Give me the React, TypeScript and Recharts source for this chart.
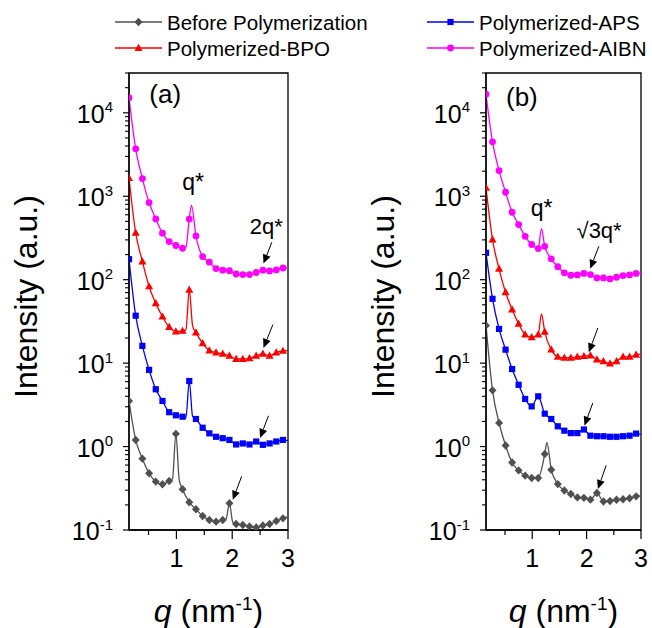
import React from "react"
import { LineChart, Line, XAxis, YAxis, ReferenceLine, ReferenceDot, ReferenceArea } from "recharts"

const FONT = "Arial, 'Liberation Sans', Helvetica, sans-serif"

// q positions of the plotted symbols (nm^-1)
const qMarks = [0.15, 0.27, 0.39, 0.51, 0.63, 0.75, 0.87, 0.99, 1.11, 1.23, 1.35, 1.47, 1.59, 1.71, 1.83, 1.95, 2.07, 2.19, 2.31, 2.43, 2.55, 2.67, 2.79, 2.91]

// panel (a): intensities at the symbols
const aBefore = [3.52, 1.2, 0.716, 0.479, 0.38, 0.353, 0.387, 1.42, 0.308, 0.215, 0.177, 0.147, 0.132, 0.126, 0.132, 0.209, 0.118, 0.115, 0.11, 0.107, 0.113, 0.118, 0.128, 0.138]
const aAPS = [176, 37, 16.1, 8.3, 4.86, 3.52, 2.58, 2.37, 2.28, 6.1, 2.14, 1.68, 1.44, 1.31, 1.26, 1.2, 1.06, 1.09, 1.06, 1.15, 1.05, 1.09, 1.15, 1.2]
const aBPO = [1650, 364, 165, 83, 52, 36, 27, 23.9, 24.3, 75.5, 23.2, 17.3, 14.1, 13.4, 12.9, 12.2, 11.2, 11.2, 11.4, 12.2, 12.9, 12.2, 13.4, 14]
const aAIBN = [15200, 3700, 1630, 840, 535, 361, 286, 257, 238, 532, 335, 189, 162, 136, 130, 128, 117, 115, 115, 122, 130, 127, 131, 138]
// extra curve points between symbols [q, I]
const aBeforeExtra = [[0.93, 0.41], [1.05, 0.4], [1.89, 0.135], [2.01, 0.124], [3.0, 0.145]]
const aAPSExtra = [[1.17, 2.2], [1.29, 2.3], [3.0, 1.18]]
const aBPOExtra = [[1.17, 25], [1.29, 28], [3.0, 14.1]]
const aAIBNExtra = [[1.17, 245], [1.27, 776], [3.0, 138]]

// panel (b)
const bBefore = [28.2, 4.72, 1.92, 1.03, 0.645, 0.518, 0.448, 0.42, 0.42, 0.815, 0.528, 0.355, 0.298, 0.27, 0.246, 0.243, 0.231, 0.278, 0.22, 0.223, 0.23, 0.234, 0.24, 0.253]
const bAPS = [210, 59, 25.7, 14.5, 8.5, 5.5, 3.72, 3.03, 4.0, 2.48, 2.14, 1.75, 1.55, 1.45, 1.45, 1.6, 1.35, 1.33, 1.33, 1.31, 1.31, 1.33, 1.35, 1.43]
const bBPO = [1260, 303, 135, 70.6, 43.8, 29.5, 22, 20.4, 22, 23.7, 14.5, 11.9, 11.6, 11.6, 11.9, 12.1, 12.3, 11, 10.5, 9.9, 10.5, 11.9, 11.9, 12.6]
const bAIBN = [16700, 4490, 2030, 1117, 643, 458, 331, 264, 236, 251, 178, 143, 121, 113, 114, 119, 115, 105, 105, 102, 107, 112, 114, 119]
const bBeforeExtra = [[1.27, 1.12], [3.0, 0.257]]
const bAPSExtra = [[3.0, 1.4]]
const bBPOExtra = [[1.17, 39], [3.0, 12.8]]
const bAIBNExtra = [[1.17, 410], [3.0, 120]]

// arrows [from, to] in data units
const aArrows = [[[2.71, 281], [2.56, 156]], [[2.73, 29], [2.56, 15.2]], [[2.65, 2.34], [2.5, 1.27]], [[2.17, 0.44], [2.01, 0.23]]]
const bArrows = [[[2.225, 251], [2.065, 135]], [[2.207, 26.4], [2.04, 13.5]], [[2.114, 3.33], [1.96, 1.78]], [[2.36, 0.595], [2.207, 0.31]]]

// text notes: label, q, I (baseline), font size
const aNotes: [string, number, number, number][] = [["(a)", 0.8, 12930, 26], ["q*", 1.3, 1202, 23], ["2q*", 2.61, 348, 22]]
const bNotes: [string, number, number, number][] = [["(b)", 0.81, 12230, 26], ["q*", 1.173, 575, 23], ["\u221A3q*", 2.23, 317, 22]]

const xTicks = [0.5, 1, 1.5, 2, 2.5, 3]
const xLabels = [1, 2, 3]
const decades = [0.1, 1, 10, 100, 1000, 10000]
const decadeExps = ["-1", "0", "1", "2", "3", "4"]
const minorSteps = [2, 3, 4, 5, 6, 7, 8, 9]
const yTicks = decades.concat(
  decades.flatMap((d) => minorSteps.map((m) => Number((d * m).toPrecision(2)))).filter((v) => v <= 30000)
)

const seriesStyle = [
  { name: "Before Polymerization", color: "#505050", shape: "diamond" },
  { name: "Polymerized-APS", color: "#0000ff", shape: "square" },
  { name: "Polymerized-BPO", color: "#ff0000", shape: "triangle" },
  { name: "Polymerized-AIBN", color: "#ff00ff", shape: "circle" },
]

const toPoints = (marks: number[], extra: number[][]) => {
  const m = marks.map((v, i) => ({ q: qMarks[i], v }))
  const all = m.concat(extra.map(([q, v]) => ({ q, v }))).sort((a, b) => a.q - b.q)
  return { m, all }
}

const Symbol = ({ shape, color, cx, cy }: any) => {
  if (shape === "diamond")
    return <polygon points={`${cx},${cy - 4.2} ${cx + 4},${cy} ${cx},${cy + 4.2} ${cx - 4},${cy}`} fill={color} />
  if (shape === "square") return <rect x={cx - 3.1} y={cy - 3.1} width={6.2} height={6.2} fill={color} />
  if (shape === "triangle")
    return <polygon points={`${cx},${cy - 4.3} ${cx + 4},${cy + 2.9} ${cx - 4},${cy + 2.9}`} fill={color} />
  return <circle cx={cx} cy={cy} r={3.4} fill={color} />
}

const XTick = (p: any) => {
  const { x, y, payload } = p
  const major = xLabels.includes(payload.value)
  return (
    <g>
      <line x1={x} x2={x} y1={y} y2={y + (major ? 9 : 5)} stroke="#000" strokeWidth={1.2} />
      {major && (
        <text x={x} y={y + 36.7} textAnchor="middle" fontSize={25} fontFamily={FONT} fill="#000">
          {payload.value}
        </text>
      )}
    </g>
  )
}

const YTick = (p: any) => {
  const { x, y, payload } = p
  const i = decades.indexOf(payload.value)
  if (i < 0) return <line x1={x - 4} x2={x} y1={y} y2={y} stroke="#000" strokeWidth={1.1} />
  return (
    <g>
      <line x1={x - 6} x2={x} y1={y} y2={y} stroke="#000" strokeWidth={1.2} />
      <text x={x - 16} y={y + 10} textAnchor="end" fontSize={25} fontFamily={FONT} fill="#000">
        10<tspan dy={-10.5} fontSize={15}>{decadeExps[i]}</tspan>
      </text>
    </g>
  )
}

const XTitle = (p: any) => {
  const vb = p.viewBox
  return (
    <text x={vb.x + vb.width / 2} y={vb.y + 92} textAnchor="middle" fontSize={32} fontFamily={FONT} fill="#000">
      <tspan fontStyle="italic">q</tspan> (nm<tspan dy={-12} fontSize={19}>-1</tspan>
      <tspan dy={12}>)</tspan>
    </text>
  )
}

const YTitle = (p: any) => {
  const vb = p.viewBox
  const bx = vb.x + vb.width - 92
  const cy = vb.y + vb.height / 2 - 5
  return (
    <text x={bx} y={cy} transform={`rotate(-90 ${bx} ${cy})`} textAnchor="middle" fontSize={32} fontFamily={FONT} fill="#000">
      Intensity (a.u.)
    </text>
  )
}

const Arrow = (p: any) => {
  const { x1, y1, x2, y2 } = p
  const dx = x2 - x1
  const dy = y2 - y1
  const len = Math.hypot(dx, dy) || 1
  const ux = dx / len
  const uy = dy / len
  const bx = x2 - ux * 9
  const by = y2 - uy * 9
  return (
    <g>
      <line x1={x1} y1={y1} x2={bx} y2={by} stroke="#000" strokeWidth={1} />
      <polygon points={`${x2},${y2} ${bx - uy * 4},${by + ux * 4} ${bx + uy * 4},${by - ux * 4}`} fill="#000" />
    </g>
  )
}

interface PanelProps {
  left: number
  width: number
  axisWidth: number
  rightMargin: number
  data: { marks: number[]; extra: number[][] }[]
  arrows: number[][][]
  notes: [string, number, number, number][]
}

const Panel: React.FC<PanelProps> = ({ left, width, axisWidth, rightMargin, data, arrows, notes }) => {
  const pts = data.map((d) => toPoints(d.marks, d.extra))
  return (
    <div style={{ position: "absolute", left, top: 0 }}>
      <LineChart width={width} height={628} margin={{ top: 73, right: rightMargin, bottom: 0, left: 0 }}>
        <XAxis
          dataKey="q"
          type="number"
          domain={[0.15, 3]}
          allowDataOverflow
          ticks={xTicks}
          interval={0}
          tickLine={false}
          tickSize={0}
          tickMargin={0}
          height={98}
          axisLine={{ stroke: "#000", strokeWidth: 1.3 }}
          tick={XTick}
          label={XTitle}
        />
        <YAxis
          type="number"
          scale="log"
          domain={[0.1, 30000]}
          allowDataOverflow
          ticks={yTicks}
          interval={0}
          width={axisWidth}
          tickLine={false}
          tickSize={0}
          tickMargin={0}
          axisLine={{ stroke: "#000", strokeWidth: 1.3 }}
          tick={YTick}
          label={YTitle}
        />
        <ReferenceArea x1={0.15} x2={3} y1={0.1} y2={30000} fill="none" stroke="#000" strokeWidth={1.3} />
        {pts.map((s, i) => (
          <Line
            key={`c${i}`}
            data={s.all}
            dataKey="v"
            type="monotone"
            stroke={seriesStyle[i].color}
            strokeWidth={1.3}
            dot={false}
            activeDot={false}
            isAnimationActive={false}
          />
        ))}
        {pts.map((s, i) => (
          <Line
            key={`m${i}`}
            data={s.m}
            dataKey="v"
            stroke="none"
            dot={(dp: any) => (
              <Symbol key={dp.index} shape={seriesStyle[i].shape} color={seriesStyle[i].color} cx={dp.cx} cy={dp.cy} />
            )}
            activeDot={false}
            isAnimationActive={false}
          />
        ))}
        {arrows.map((a, i) => (
          <ReferenceLine
            key={`a${i}`}
            segment={[{ x: a[0][0], y: a[0][1] }, { x: a[1][0], y: a[1][1] }]}
            shape={Arrow}
          />
        ))}
        {notes.map(([t, q, v, fs], i) => (
          <ReferenceDot
            key={`n${i}`}
            x={q}
            y={v}
            r={1}
            shape={(sp: any) => (
              <text x={sp.cx} y={sp.cy} textAnchor="middle" fontSize={fs} fontFamily={FONT} fill="#000">
                {t}
              </text>
            )}
          />
        ))}
      </LineChart>
    </div>
  )
}

const legendPos = [
  { x: 115, y: 22 },
  { x: 427, y: 22 },
  { x: 115, y: 48 },
  { x: 427, y: 48 },
]

const Legend = () => (
  <svg width={652} height={65} style={{ position: "absolute", left: 0, top: 0 }}>
    {seriesStyle.map((s, i) => {
      const p = legendPos[i]
      return (
        <g key={s.name}>
          <line x1={p.x} x2={p.x + 47} y1={p.y} y2={p.y} stroke={s.color} strokeWidth={1.3} />
          <Symbol shape={s.shape} color={s.color} cx={p.x + 23.5} cy={p.y} />
          <text x={p.x + 52} y={p.y + 7.5} fontSize={20.5} fontFamily={FONT} fill="#000">
            {s.name}
          </text>
        </g>
      )
    })}
  </svg>
)

export default function App() {
  return (
    <div style={{ position: "absolute", left: 0, top: 0, width: 652, height: 628, background: "#fff", overflow: "hidden" }}>
      <Legend />
      <Panel
        left={0}
        width={310}
        axisWidth={129}
        rightMargin={22}
        data={[
          { marks: aBefore, extra: aBeforeExtra },
          { marks: aAPS, extra: aAPSExtra },
          { marks: aBPO, extra: aBPOExtra },
          { marks: aAIBN, extra: aAIBNExtra },
        ]}
        arrows={aArrows}
        notes={aNotes}
      />
      <Panel
        left={330}
        width={322}
        axisWidth={156}
        rightMargin={11}
        data={[
          { marks: bBefore, extra: bBeforeExtra },
          { marks: bAPS, extra: bAPSExtra },
          { marks: bBPO, extra: bBPOExtra },
          { marks: bAIBN, extra: bAIBNExtra },
        ]}
        arrows={bArrows}
        notes={bNotes}
      />
    </div>
  )
}
